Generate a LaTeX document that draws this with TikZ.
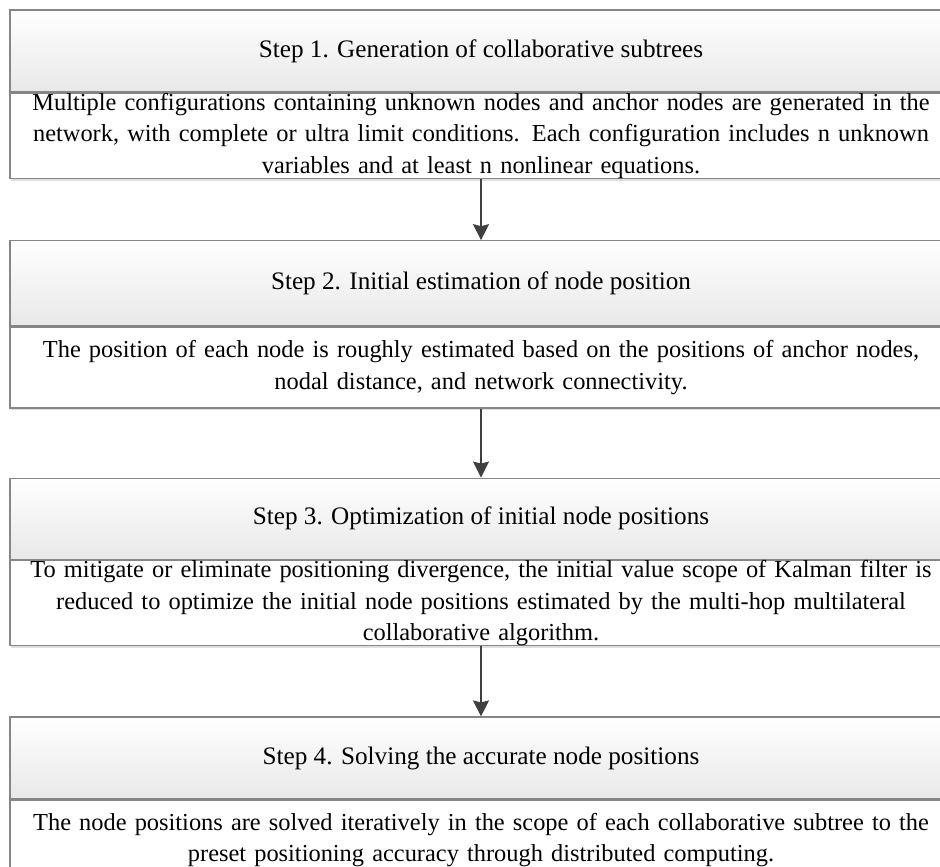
\documentclass[tikz,border=0pt]{standalone}
\usepackage{fontspec}
\setmainfont{Liberation Serif}
\usetikzlibrary{positioning,arrows.meta,shadows}

\tikzset{
 steptitle/.style={draw=gray!95, line width=1.2pt, top color=white, bottom color=gray!18,
   minimum width=942pt, minimum height=82pt, inner sep=0pt,
   drop shadow={opacity=0.25, shadow xshift=1pt, shadow yshift=-2pt},
   font=\fontsize{25.2}{31}\selectfont},
 steptext/.style={draw=gray!95, line width=1.2pt, fill=white,
   minimum width=942pt, text width=940pt, align=center, inner sep=0pt,
   drop shadow={opacity=0.25, shadow xshift=1pt, shadow yshift=-2pt},
   font=\fontsize{24.4}{31.5}\selectfont},
 flow/.style={draw=black!75, line width=1.5pt, -{Stealth[inset=2pt,length=16pt,width=16pt]}}
}

\begin{document}
\begin{tikzpicture}[x=1pt,y=1pt]
\clip (0,0) rectangle (940,-867);

\node[steptitle] (t1) at (481,-51) {Step 1. Generation of collaborative subtrees};
\node[steptext, minimum height=84pt, below=0pt of t1] (d1) {Multiple configurations containing unknown nodes and anchor nodes are generated in the\\ network, with complete or ultra limit conditions. Each configuration includes n unknown\\ variables and at least n nonlinear equations.};

\node[steptitle, minimum height=85pt, below=61pt of d1] (t2) {Step 2. Initial estimation of node position};
\node[steptext, minimum height=81pt, below=0pt of t2] (d2) {The position of each node is roughly estimated based on the positions of anchor nodes,\\ nodal distance, and network connectivity.};

\node[steptitle, minimum height=81pt, below=69pt of d2] (t3) {Step 3. Optimization of initial node positions};
\node[steptext, minimum height=85pt, below=0pt of t3] (d3) {To mitigate or eliminate positioning divergence, the initial value scope of Kalman filter is\\ reduced to optimize the initial node positions estimated by the multi-hop multilateral\\ collaborative algorithm.};

\node[steptitle, below=70pt of d3] (t4) {Step 4. Solving the accurate node positions};
\node[steptext, minimum height=80pt, below=0pt of t4] (d4) {The node positions are solved iteratively in the scope of each collaborative subtree to the\\ preset positioning accuracy through distributed computing.};

\draw[flow] (d1) -- (t2);
\draw[flow] (d2) -- (t3);
\draw[flow] (d3) -- (t4);
\end{tikzpicture}
\end{document}
